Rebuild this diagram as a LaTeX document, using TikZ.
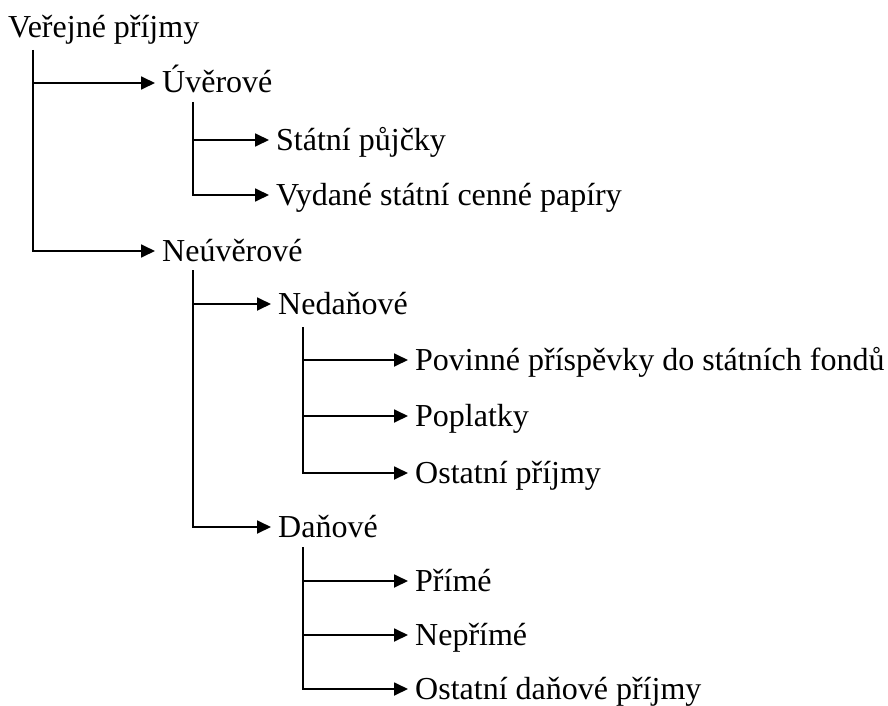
\documentclass[tikz,border=0pt]{standalone}
\usepackage{fontspec}
\setmainfont{Liberation Serif}
\usetikzlibrary{arrows.meta}
\begin{document}
\begin{tikzpicture}[x=1pt,y=-1pt,
  lbl/.style={anchor=base west,inner sep=0pt,font=\fontsize{32}{36}\selectfont},
  arr/.style={line width=1.8pt,-{Triangle[length=14pt,width=13pt]}},
  ln/.style={line width=1.8pt}]
\useasboundingbox (0,0) rectangle (888,706);
% labels (baseline positions)
\node[lbl] (root) at (8,38) {Veřejné příjmy};
\node[lbl] (uver) at (162,93) {Úvěrové};
\node[lbl] (stat) at (276,150) {Státní půjčky};
\node[lbl] (vyd)  at (276,205) {Vydané státní cenné papíry};
\node[lbl] (neuv) at (162,261) {Neúvěrové};
\node[lbl] (neda) at (278,314) {Nedaňové};
\node[lbl] (pov)  at (415,370) {Povinné příspěvky do státních fondů};
\node[lbl] (popl) at (415,426) {Poplatky};
\node[lbl] (ostp) at (415,483) {Ostatní příjmy};
\node[lbl] (dan)  at (278,537) {Daňové};
\node[lbl] (prim) at (415,591) {Přímé};
\node[lbl] (nepr) at (415,645) {Nepřímé};
\node[lbl] (ostd) at (415,699) {Ostatní daňové příjmy};
% tops of the vertical lines
\coordinate (t1) at (33,50);
\coordinate (t2) at (193,102);
\coordinate (t3) at (193,270);
\coordinate (t4) at (303,327);
\coordinate (t5) at (303,547);
% arrow ends
\foreach \n in {uver,stat,vyd,neuv,neda,pov,popl,ostp,dan,prim,nepr,ostd}
  \coordinate (\n-in) at ([xshift=-7pt,yshift=10pt]\n.base west);
% level 1
\draw[arr] (t1) |- (neuv-in);
\draw[arr] (t1 |- uver-in) -- (uver-in);
% level 2 under Úvěrové
\draw[arr] (t2) |- (vyd-in);
\draw[arr] (t2 |- stat-in) -- (stat-in);
% level 2 under Neúvěrové
\draw[arr] (t3) |- (dan-in);
\draw[arr] (t3 |- neda-in) -- (neda-in);
% level 3 under Nedaňové
\draw[arr] (t4) |- (ostp-in);
\draw[arr] (t4 |- pov-in) -- (pov-in);
\draw[arr] (t4 |- popl-in) -- (popl-in);
% level 3 under Daňové
\draw[arr] (t5) |- (ostd-in);
\draw[arr] (t5 |- prim-in) -- (prim-in);
\draw[arr] (t5 |- nepr-in) -- (nepr-in);
\end{tikzpicture}
\end{document}
